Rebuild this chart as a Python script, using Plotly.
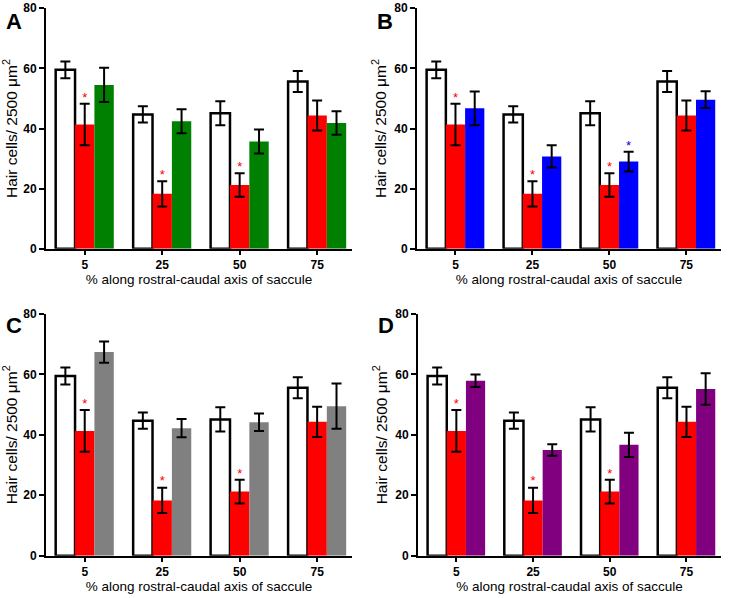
import plotly.graph_objects as go

# positions along the saccule (% rostral-caudal)
categories = ["5", "25", "50", "75"]

# control (white) and treated (red) are the same in every panel
control_mean = [59.5, 44.7, 45.1, 55.6]
control_err = [2.8, 2.7, 4.0, 3.5]
treated_mean = [41.3, 18.3, 21.2, 44.3]
treated_err = [6.9, 4.2, 3.9, 5.0]

# third group, one per panel
green_mean = [54.5, 42.4, 35.7, 41.8]
green_err = [5.7, 4.0, 4.0, 3.9]
blue_mean = [46.7, 30.7, 29.0, 49.6]
blue_err = [5.6, 3.7, 3.3, 2.8]
gray_mean = [67.4, 42.2, 44.2, 49.5]
gray_err = [3.5, 3.0, 2.9, 7.5]
purple_mean = [57.9, 35.0, 36.7, 55.2]
purple_err = [2.1, 1.9, 4.0, 5.2]

# significance marks (category indices)
stars_red = [0, 1, 2]
stars_blue = [2]

panels = [
    ("A", green_mean, green_err, "#008000", []),
    ("B", blue_mean, blue_err, "#0000FF", stars_blue),
    ("C", gray_mean, gray_err, "#808080", []),
    ("D", purple_mean, purple_err, "#800080", []),
]

W, H = 731, 598
# plot areas in picture pixels: (left, right, top, bottom)
boxes = [(46, 352, 9, 249), (417, 721, 9, 249), (46, 352, 314, 555), (418, 721, 314, 555)]


def fy(v):
    # picture y -> figure y (the photo sits ~8px lower and a bit squashed)
    return (v - 7.8) / 0.974


font = "Arial, Liberation Sans, sans-serif"
bargap = 0.25
bar_w = (1 - bargap) / 3

fig = go.Figure()
xpos = list(range(len(categories)))

for i, (letter, mean3, err3, col3, blue_stars) in enumerate(panels):
    n = "" if i == 0 else str(i + 1)
    xa, ya = "x" + n, "y" + n
    err_style = dict(type="data", thickness=2, width=5, color="black")

    fig.add_trace(go.Bar(x=xpos, y=control_mean, xaxis=xa, yaxis=ya,
                         marker=dict(color="white", line=dict(color="black", width=2.5)),
                         error_y=dict(array=control_err, **err_style), showlegend=False))
    fig.add_trace(go.Bar(x=xpos, y=treated_mean, xaxis=xa, yaxis=ya,
                         marker=dict(color="#FF0000", line=dict(width=0)),
                         error_y=dict(array=treated_err, **err_style), showlegend=False))
    fig.add_trace(go.Bar(x=xpos, y=mean3, xaxis=xa, yaxis=ya,
                         marker=dict(color=col3, line=dict(width=0)),
                         error_y=dict(array=err3, **err_style), showlegend=False))

    # asterisks above error bars
    sx = [xpos[k] for k in stars_red]
    sy = [treated_mean[k] + treated_err[k] + 1.8 for k in stars_red]
    fig.add_trace(go.Scatter(x=sx, y=sy, xaxis=xa, yaxis=ya, mode="text", text=["*"] * len(sx),
                             textfont=dict(color="#FF0000", size=13, family=font),
                             textposition="middle center", showlegend=False, hoverinfo="skip"))
    if blue_stars:
        bx = [xpos[k] + bar_w for k in blue_stars]
        by = [mean3[k] + err3[k] + 1.8 for k in blue_stars]
        fig.add_trace(go.Scatter(x=bx, y=by, xaxis=xa, yaxis=ya, mode="text", text=["*"] * len(bx),
                                 textfont=dict(color=col3, size=13, family=font),
                                 textposition="middle center", showlegend=False, hoverinfo="skip"))

    l, r, t, b = boxes[i]
    t, b = fy(t), fy(b)
    line_style = dict(showline=True, linecolor="black", linewidth=2, ticks="outside",
                      tickcolor="black", tickwidth=2, showgrid=False, zeroline=False,
                      tickfont=dict(family=font, size=12, color="black", weight="bold"))
    fig.layout["xaxis" + n] = dict(domain=[l / W, r / W], anchor=ya, range=[-0.5, 3.45],
                                   tickvals=xpos, ticktext=categories, ticklen=4,
                                   title=dict(text="% along rostral-caudal axis of saccule",
                                              font=dict(family=font, size=13.5, color="black"),
                                              standoff=3),
                                   **line_style)
    fig.layout["yaxis" + n] = dict(domain=[1 - b / H, 1 - t / H], anchor=xa, range=[0, 80],
                                   tickvals=[0, 20, 40, 60, 80], ticklen=5,
                                   title=dict(text="Hair cells/ 2500 \u03bcm<sup>2</sup>",
                                              font=dict(family=font, size=15.5, color="black"),
                                              standoff=4),
                                   **line_style)

    fig.add_annotation(text="<b>%s</b>" % letter, xref="paper", yref="paper",
                       x=(l - 42) / W, y=1 - max(t - 3, 0) / H, xanchor="left", yanchor="top",
                       showarrow=False, font=dict(family=font, size=22, color="black"))

fig.update_layout(width=W, height=H, margin=dict(l=0, r=0, t=0, b=0),
                  barmode="group", bargap=bargap, bargroupgap=0,
                  paper_bgcolor="white", plot_bgcolor="white")

# drop the default 8px body margin
fig.write_html("out.html", post_script="document.body.style.margin = '0';",
               config={"displayModeBar": False})
